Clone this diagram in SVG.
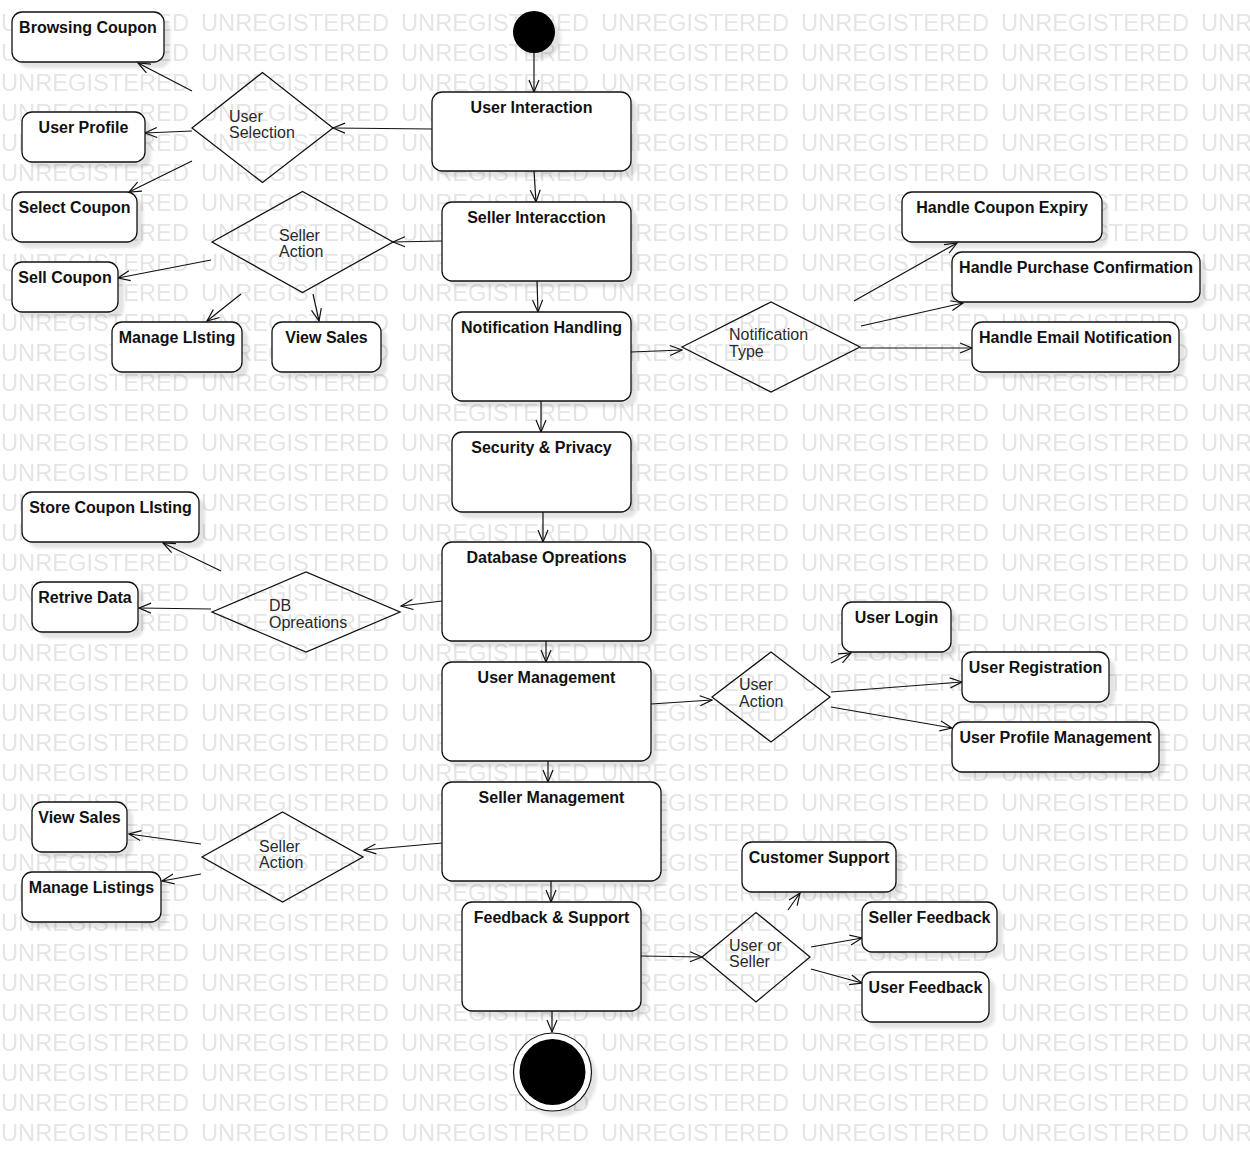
<svg xmlns="http://www.w3.org/2000/svg" width="1250" height="1162" viewBox="0 0 1250 1162">
  <style>
    .bg { fill: #ffffff; }
    .mark { font-family: "Liberation Sans", Arial, sans-serif; font-size: 23px; fill: #e5e5e5; }
    .box { fill: #ffffff; stroke: #111111; stroke-width: 1.3; }
    .shadow { fill: #000000; fill-opacity: 0.11; filter: url(#soft); }
    .dia { fill: none; stroke: #111111; stroke-width: 1.3; }
    .title { font-family: "Liberation Sans", Arial, sans-serif; font-size: 16px; font-weight: bold; fill: #111111; text-anchor: middle; }
    .lbl { font-family: "Liberation Sans", Arial, sans-serif; font-size: 16px; fill: #2a2a2a; }
    .edge { fill: none; stroke: #111111; stroke-width: 1.2; marker-end: url(#open); }
  </style>
  <defs>
    <filter id="soft" x="-20%" y="-20%" width="140%" height="140%">
      <feGaussianBlur stdDeviation="1.6"/>
    </filter>
    <marker id="open" markerUnits="userSpaceOnUse" markerWidth="14" markerHeight="12" refX="12" refY="5" orient="auto" overflow="visible">
      <path d="M0,0 L12,5 L0,10" fill="none" stroke="#111111" stroke-width="1.2"/>
    </marker>
    <pattern id="unreg" patternUnits="userSpaceOnUse" x="0" y="8" width="200" height="30">
      <text class="mark" x="1" y="22.5" textLength="188" lengthAdjust="spacingAndGlyphs">UNREGISTERED</text>
    </pattern>
  </defs>

  <rect class="bg" x="0" y="0" width="1250" height="1162"/>
  <rect x="0" y="8" width="1250" height="1140" fill="url(#unreg)"/>

  <!-- connectors -->
  <g id="connectors">
    <line class="edge" x1="534" y1="53" x2="534" y2="92"/>
    <line class="edge" x1="534" y1="171" x2="536" y2="202"/>
    <line class="edge" x1="537" y1="281" x2="538" y2="312"/>
    <line class="edge" x1="541" y1="401" x2="541" y2="432"/>
    <line class="edge" x1="543" y1="512" x2="543" y2="542"/>
    <line class="edge" x1="546" y1="641" x2="546" y2="662"/>
    <line class="edge" x1="548" y1="761" x2="548" y2="782"/>
    <line class="edge" x1="551" y1="881" x2="551" y2="902"/>
    <line class="edge" x1="552" y1="1011" x2="552" y2="1032"/>

    <line class="edge" x1="432" y1="129" x2="333" y2="128"/>
    <line class="edge" x1="192" y1="91" x2="138" y2="63"/>
    <line class="edge" x1="192" y1="131" x2="145" y2="133"/>
    <line class="edge" x1="192" y1="161" x2="129" y2="192"/>

    <line class="edge" x1="442" y1="241" x2="393" y2="242"/>
    <line class="edge" x1="211" y1="260" x2="118" y2="278"/>
    <line class="edge" x1="241" y1="294" x2="207" y2="321"/>
    <line class="edge" x1="313" y1="294" x2="319" y2="321"/>

    <line class="edge" x1="631" y1="352" x2="682" y2="350"/>
    <line class="edge" x1="854" y1="301" x2="957" y2="243"/>
    <line class="edge" x1="861" y1="326" x2="963" y2="303"/>
    <line class="edge" x1="860" y1="348" x2="972" y2="348"/>

    <line class="edge" x1="442" y1="601" x2="401" y2="606"/>
    <line class="edge" x1="221" y1="571" x2="163" y2="543"/>
    <line class="edge" x1="211" y1="609" x2="139" y2="608"/>

    <line class="edge" x1="651" y1="704" x2="712" y2="700"/>
    <line class="edge" x1="831" y1="663" x2="851" y2="653"/>
    <line class="edge" x1="831" y1="692" x2="962" y2="682"/>
    <line class="edge" x1="831" y1="707" x2="952" y2="728"/>

    <line class="edge" x1="442" y1="843" x2="364" y2="850"/>
    <line class="edge" x1="201" y1="844" x2="129" y2="834"/>
    <line class="edge" x1="201" y1="874" x2="162" y2="881"/>

    <line class="edge" x1="641" y1="956" x2="702" y2="957"/>
    <line class="edge" x1="788" y1="910" x2="800" y2="893"/>
    <line class="edge" x1="811" y1="947" x2="862" y2="938"/>
    <line class="edge" x1="811" y1="969" x2="862" y2="983"/>
  </g>

  <!-- initial and final states -->
  <g id="start">
    <circle class="shadow" cx="540" cy="38" r="21"/>
    <circle cx="534" cy="32" r="21" fill="#000000"/>
  </g>
  <g id="end">
    <circle class="shadow" cx="558" cy="1078" r="39"/>
    <circle cx="552.5" cy="1072" r="39" fill="#ffffff" stroke="#111111" stroke-width="1.2"/>
    <circle cx="552.5" cy="1072" r="33" fill="#000000"/>
  </g>

  <!-- main flow -->
  <g id="user-interaction">
    <rect class="shadow" x="438" y="98" width="199" height="79" rx="10"/>
    <rect class="box" x="432" y="92" width="199" height="79" rx="10"/>
    <text class="title" x="531.5" y="112.5">User Interaction</text>
  </g>
  <g id="seller-interaction">
    <rect class="shadow" x="448" y="208" width="189" height="79" rx="10"/>
    <rect class="box" x="442" y="202" width="189" height="79" rx="10"/>
    <text class="title" x="536.5" y="222.5">Seller Interacction</text>
  </g>
  <g id="notification-handling">
    <rect class="shadow" x="458" y="318" width="179" height="89" rx="10"/>
    <rect class="box" x="452" y="312" width="179" height="89" rx="10"/>
    <text class="title" x="541.5" y="332.5">Notification Handling</text>
  </g>
  <g id="security-privacy">
    <rect class="shadow" x="458" y="438" width="179" height="80" rx="10"/>
    <rect class="box" x="452" y="432" width="179" height="80" rx="10"/>
    <text class="title" x="541.5" y="452.5">Security &amp; Privacy</text>
  </g>
  <g id="database-operations">
    <rect class="shadow" x="448" y="548" width="209" height="99" rx="10"/>
    <rect class="box" x="442" y="542" width="209" height="99" rx="10"/>
    <text class="title" x="546.5" y="562.5">Database Opreations</text>
  </g>
  <g id="user-management">
    <rect class="shadow" x="448" y="668" width="209" height="99" rx="10"/>
    <rect class="box" x="442" y="662" width="209" height="99" rx="10"/>
    <text class="title" x="546.5" y="682.5">User Management</text>
  </g>
  <g id="seller-management">
    <rect class="shadow" x="448" y="788" width="219" height="99" rx="10"/>
    <rect class="box" x="442" y="782" width="219" height="99" rx="10"/>
    <text class="title" x="551.5" y="802.5">Seller Management</text>
  </g>
  <g id="feedback-support">
    <rect class="shadow" x="468" y="908" width="179" height="109" rx="10"/>
    <rect class="box" x="462" y="902" width="179" height="109" rx="10"/>
    <text class="title" x="551.5" y="922.5">Feedback &amp; Support</text>
  </g>

  <!-- user selection branch -->
  <g id="user-selection">
    <polygon class="dia" points="192,128 262.5,72.5 333,128 262.5,182.5"/>
    <text class="lbl" x="229" y="121.5">User</text>
    <text class="lbl" x="229" y="137.5">Selection</text>
  </g>
  <g id="browsing-coupon">
    <rect class="shadow" x="18" y="18" width="152" height="50" rx="10"/>
    <rect class="box" x="12" y="12" width="152" height="50" rx="10"/>
    <text class="title" x="88" y="32.5">Browsing Coupon</text>
  </g>
  <g id="user-profile">
    <rect class="shadow" x="28" y="118" width="123" height="50" rx="10"/>
    <rect class="box" x="22" y="112" width="123" height="50" rx="10"/>
    <text class="title" x="83.5" y="132.5">User Profile</text>
  </g>
  <g id="select-coupon">
    <rect class="shadow" x="18" y="198" width="125" height="50" rx="10"/>
    <rect class="box" x="12" y="192" width="125" height="50" rx="10"/>
    <text class="title" x="74.5" y="212.5">Select Coupon</text>
  </g>

  <!-- seller action branch -->
  <g id="seller-action">
    <polygon class="dia" points="212,242 302.5,191.5 393,242 302.5,292.5"/>
    <text class="lbl" x="279" y="240.5">Seller</text>
    <text class="lbl" x="279" y="256.5">Action</text>
  </g>
  <g id="sell-coupon">
    <rect class="shadow" x="18" y="268" width="106" height="50" rx="10"/>
    <rect class="box" x="12" y="262" width="106" height="50" rx="10"/>
    <text class="title" x="65" y="282.5">Sell Coupon</text>
  </g>
  <g id="manage-listing">
    <rect class="shadow" x="118" y="328" width="130" height="50" rx="10"/>
    <rect class="box" x="112" y="322" width="130" height="50" rx="10"/>
    <text class="title" x="177" y="342.5">Manage LIsting</text>
  </g>
  <g id="view-sales">
    <rect class="shadow" x="278" y="328" width="109" height="50" rx="10"/>
    <rect class="box" x="272" y="322" width="109" height="50" rx="10"/>
    <text class="title" x="326.5" y="342.5">View Sales</text>
  </g>

  <!-- notification branch -->
  <g id="notification-type">
    <polygon class="dia" points="682,347 771,302 860,347 771,392"/>
    <text class="lbl" x="729" y="340">Notification</text>
    <text class="lbl" x="729" y="356.5">Type</text>
  </g>
  <g id="handle-coupon-expiry">
    <rect class="shadow" x="908" y="198" width="200" height="50" rx="10"/>
    <rect class="box" x="902" y="192" width="200" height="50" rx="10"/>
    <text class="title" x="1002" y="212.5">Handle Coupon Expiry</text>
  </g>
  <g id="handle-purchase-confirmation">
    <rect class="shadow" x="958" y="258" width="248" height="50" rx="10"/>
    <rect class="box" x="952" y="252" width="248" height="50" rx="10"/>
    <text class="title" x="1076" y="272.5">Handle Purchase Confirmation</text>
  </g>
  <g id="handle-email-notification">
    <rect class="shadow" x="978" y="328" width="207" height="50" rx="10"/>
    <rect class="box" x="972" y="322" width="207" height="50" rx="10"/>
    <text class="title" x="1075.5" y="342.5">Handle Email Notification</text>
  </g>

  <!-- database branch -->
  <g id="db-operations">
    <polygon class="dia" points="212,612 306,572 400,612 306,652"/>
    <text class="lbl" x="269" y="610.5">DB</text>
    <text class="lbl" x="269" y="627.5">Opreations</text>
  </g>
  <g id="store-coupon-listing">
    <rect class="shadow" x="28" y="498" width="177" height="50" rx="10"/>
    <rect class="box" x="22" y="492" width="177" height="50" rx="10"/>
    <text class="title" x="110.5" y="512.5">Store Coupon LIsting</text>
  </g>
  <g id="retrive-data">
    <rect class="shadow" x="38" y="588" width="106" height="50" rx="10"/>
    <rect class="box" x="32" y="582" width="106" height="50" rx="10"/>
    <text class="title" x="85" y="602.5">Retrive Data</text>
  </g>

  <!-- user management branch -->
  <g id="user-action">
    <polygon class="dia" points="712,697 771,652 830,697 771,742"/>
    <text class="lbl" x="739" y="690">User</text>
    <text class="lbl" x="739" y="707">Action</text>
  </g>
  <g id="user-login">
    <rect class="shadow" x="848" y="608" width="109" height="50" rx="10"/>
    <rect class="box" x="842" y="602" width="109" height="50" rx="10"/>
    <text class="title" x="896.5" y="622.5">User Login</text>
  </g>
  <g id="user-registration">
    <rect class="shadow" x="968" y="658" width="147" height="50" rx="10"/>
    <rect class="box" x="962" y="652" width="147" height="50" rx="10"/>
    <text class="title" x="1035.5" y="672.5">User Registration</text>
  </g>
  <g id="user-profile-management">
    <rect class="shadow" x="958" y="728" width="207" height="50" rx="10"/>
    <rect class="box" x="952" y="722" width="207" height="50" rx="10"/>
    <text class="title" x="1055.5" y="742.5">User Profile Management</text>
  </g>

  <!-- seller management branch -->
  <g id="seller-action-2">
    <polygon class="dia" points="202,857 282.5,812 363,857 282.5,902"/>
    <text class="lbl" x="259" y="851.5">Seller</text>
    <text class="lbl" x="259" y="867.5">Action</text>
  </g>
  <g id="view-sales-2">
    <rect class="shadow" x="38" y="808" width="95" height="50" rx="10"/>
    <rect class="box" x="32" y="802" width="95" height="50" rx="10"/>
    <text class="title" x="79.5" y="822.5">View Sales</text>
  </g>
  <g id="manage-listings">
    <rect class="shadow" x="28" y="878" width="139" height="50" rx="10"/>
    <rect class="box" x="22" y="872" width="139" height="50" rx="10"/>
    <text class="title" x="91.5" y="892.5">Manage Listings</text>
  </g>

  <!-- feedback branch -->
  <g id="user-or-seller">
    <polygon class="dia" points="702,957 756,912.5 810,957 756,1002"/>
    <text class="lbl" x="729" y="950.5">User or</text>
    <text class="lbl" x="729" y="967">Seller</text>
  </g>
  <g id="customer-support">
    <rect class="shadow" x="748" y="848" width="154" height="50" rx="10"/>
    <rect class="box" x="742" y="842" width="154" height="50" rx="10"/>
    <text class="title" x="819" y="862.5">Customer Support</text>
  </g>
  <g id="seller-feedback">
    <rect class="shadow" x="868" y="908" width="135" height="50" rx="10"/>
    <rect class="box" x="862" y="902" width="135" height="50" rx="10"/>
    <text class="title" x="929.5" y="922.5">Seller Feedback</text>
  </g>
  <g id="user-feedback">
    <rect class="shadow" x="868" y="978" width="127" height="50" rx="10"/>
    <rect class="box" x="862" y="972" width="127" height="50" rx="10"/>
    <text class="title" x="925.5" y="992.5">User Feedback</text>
  </g>
</svg>
